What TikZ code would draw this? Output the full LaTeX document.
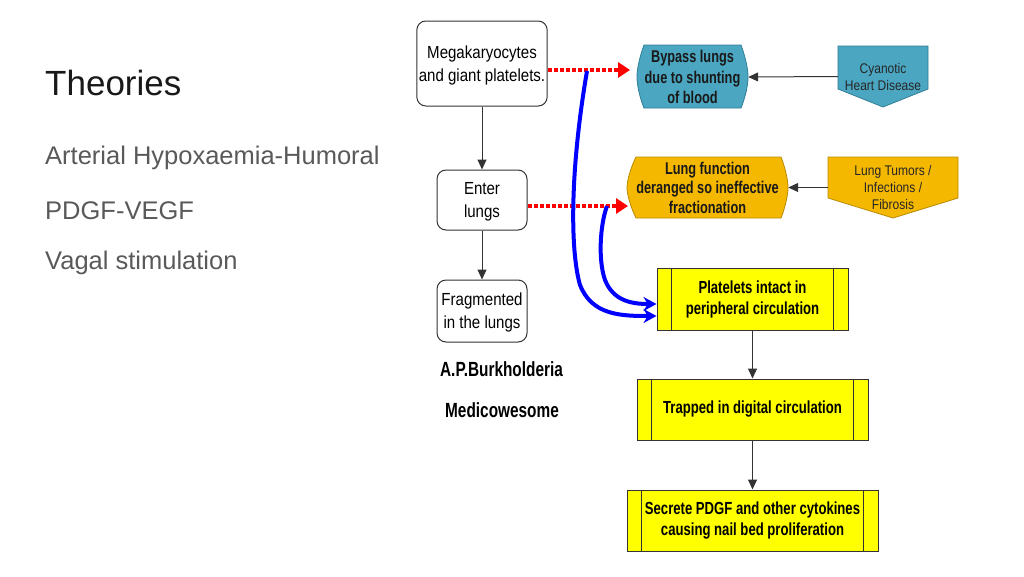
\documentclass[tikz,border=0pt]{standalone}
\usepackage{fontspec}
\setmainfont{Liberation Sans}
\newfontfamily\dreg[FakeStretch=0.86]{Liberation Sans}
\newfontfamily\dbold[FakeStretch=0.75]{Liberation Sans Bold}
\usetikzlibrary{arrows.meta,positioning}
\definecolor{teal1}{HTML}{4BA6C1}
\definecolor{teal2}{HTML}{2F7E96}
\definecolor{amber1}{HTML}{F5B800}
\definecolor{amber2}{HTML}{B88A00}
\definecolor{yel}{HTML}{FFFF00}
\definecolor{txtgray}{HTML}{595959}
\tikzset{
  roundbox/.style={draw=black!80, line width=1pt, rounded corners=9pt, fill=white, align=center, font=\dreg\fontsize{17.5}{23}\selectfont, inner sep=2pt, text depth=0pt},
  lab/.style={align=center, inner sep=0pt},
  procbox/.style={draw=black!80, line width=1pt, fill=yel, align=center, font=\dbold\fontsize{17.5}{21}\selectfont},
  flow/.style={draw=black!80, line width=1pt, -{Triangle[length=10pt,width=9pt]}},
  reddot/.style={draw=red, line width=4pt, dash pattern=on 4pt off 2pt, -{Triangle[length=12pt,width=15pt]}},
  bluearr/.style={draw=blue, line width=4pt, -{Stealth[length=13pt,width=14pt]}},
  side/.style={anchor=west, text=txtgray, font=\fontsize{25.5}{30}\selectfont},
}
\begin{document}
\begin{tikzpicture}[x=1pt,y=-1pt]
\useasboundingbox (0,0) rectangle (1024,576);
% left text
\node[anchor=base west, inner sep=0pt, text=black!90, font=\fontsize{35}{40}\selectfont] (title) at (45,95) {Theories};
\node[side, inner sep=0pt] (t1) at (45,158) {Arterial Hypoxaemia-Humoral};
\node[side, inner sep=0pt] (t2) at (45,211) {PDGF-VEGF};
\node[side, inner sep=0pt] (t3) at (45,263) {Vagal stimulation};

% left column boxes
\node[roundbox, minimum width=130pt, minimum height=85pt] (mega) at (482,63.5) {Megakaryocytes\\and giant platelets.};
\node[roundbox, minimum width=90pt, minimum height=60pt] (enter) at (482,200) {Enter\\lungs};
\node[roundbox, minimum width=90pt, minimum height=62pt] (frag) at (482,311) {Fragmented\\in the lungs};
\node[lab, font=\dbold\fontsize{20.5}{22}\selectfont] (apb) at (501.5,369) {A.P.Burkholderia};
\node[lab, font=\dbold\fontsize{20.5}{22}\selectfont] (medi) at (502,410) {Medicowesome};

% bypass shape
\fill[teal1, draw=teal2, line width=0.8pt] (644,45) -- (741,45) .. controls (745,56) and (748,68) .. (748,77) .. controls (748,86) and (745,98) .. (741,108) -- (644,108) .. controls (640,98) and (637,86) .. (637,77) .. controls (637,68) and (640,56) .. (644,45) -- cycle;
\node[lab, minimum width=111pt, minimum height=63pt, font=\dbold\fontsize{17}{20.5}\selectfont, text=black!90] (bypass) at (692.5,77) {Bypass lungs\\due to shunting\\of blood};

% cyanotic pentagon
\fill[teal1, draw=teal2, line width=0.8pt] (838,46) -- (928,46) -- (928,89) -- (883,107) -- (838,89) -- cycle;
\node[lab, minimum width=90pt, minimum height=61pt, font=\dreg\fontsize{14}{17}\selectfont, text=black!85] (cyan) at (883,76.5) {Cyanotic\\Heart Disease};

% lung function shape
\fill[amber1, draw=amber2, line width=0.8pt] (636,157) -- (781,157) .. controls (785,167) and (788,180) .. (788,187.5) .. controls (788,195) and (785,208) .. (781,218) -- (636,218) .. controls (631,208) and (627,195) .. (627,187.5) .. controls (627,180) and (631,167) .. (636,157) -- cycle;
\node[lab, minimum width=161pt, minimum height=61pt, font=\dbold\fontsize{17}{19.5}\selectfont, text=black!90] (lungf) at (707.5,187.5) {Lung function\\deranged so ineffective\\fractionation};

% lung tumors pentagon
\fill[amber1, draw=amber2, line width=0.8pt] (828,157) -- (958,157) -- (958,198) -- (893,218) -- (828,198) -- cycle;
\node[lab, minimum width=130pt, minimum height=61pt, font=\dreg\fontsize{14}{17}\selectfont, text=black!85] (tumor) at (893,187.5) {Lung Tumors /\\Infections /\\Fibrosis};

% process boxes
\node[procbox, minimum width=191pt, minimum height=62pt] (plate) at (752.5,299) {Platelets intact in\\peripheral circulation};
\draw[black!80, line width=1pt] ([xshift=15pt]plate.north west) -- ([xshift=15pt]plate.south west);
\draw[black!80, line width=1pt] ([xshift=-15pt]plate.north east) -- ([xshift=-15pt]plate.south east);
\node[procbox, minimum width=231pt, minimum height=61pt] (trap) at (752.5,409.5) {Trapped in digital circulation};
\draw[black!80, line width=1pt] ([xshift=15pt]trap.north west) -- ([xshift=15pt]trap.south west);
\draw[black!80, line width=1pt] ([xshift=-15pt]trap.north east) -- ([xshift=-15pt]trap.south east);
\node[procbox, minimum width=251pt, minimum height=61pt] (secr) at (752.5,520.5) {Secrete PDGF and other cytokines\\causing nail bed proliferation};
\draw[black!80, line width=1pt] ([xshift=15pt]secr.north west) -- ([xshift=15pt]secr.south west);
\draw[black!80, line width=1pt] ([xshift=-15pt]secr.north east) -- ([xshift=-15pt]secr.south east);

% flow arrows
\draw[flow] (mega.south) -- (enter.north);
\draw[flow] (enter.south) -- (frag.north);
\draw[flow] (plate.south) -- (trap.north);
\draw[flow] (trap.south) -- (secr.north);
\draw[flow] (cyan.west) -- (bypass.east);
\draw[flow] (tumor.west) -- (lungf.east);

% red dotted arrows
\coordinate (r1) at (mega.east |- 0,70);
\coordinate (r1e) at (630,70);
\coordinate (r2) at (enter.east |- 0,206);
\coordinate (r2e) at (628,206);
\draw[reddot] (r1) -- (r1e);
\draw[reddot] (r2) -- (r2e);

% blue arrows
\coordinate (b1) at (587,71);
\coordinate (b2) at (607,206);
\coordinate (b1e) at (plate.west |- 0,316);
\coordinate (b2e) at (plate.west |- 0,304);
\draw[bluearr] (b1) .. controls (570,170) and (570,250) .. (580,285) .. controls (592,315) and (620,316) .. (b1e);
\draw[bluearr] (b2) .. controls (600,225) and (598,260) .. (605,280) .. controls (613,300) and (630,304) .. (b2e);
\end{tikzpicture}
\end{document}
